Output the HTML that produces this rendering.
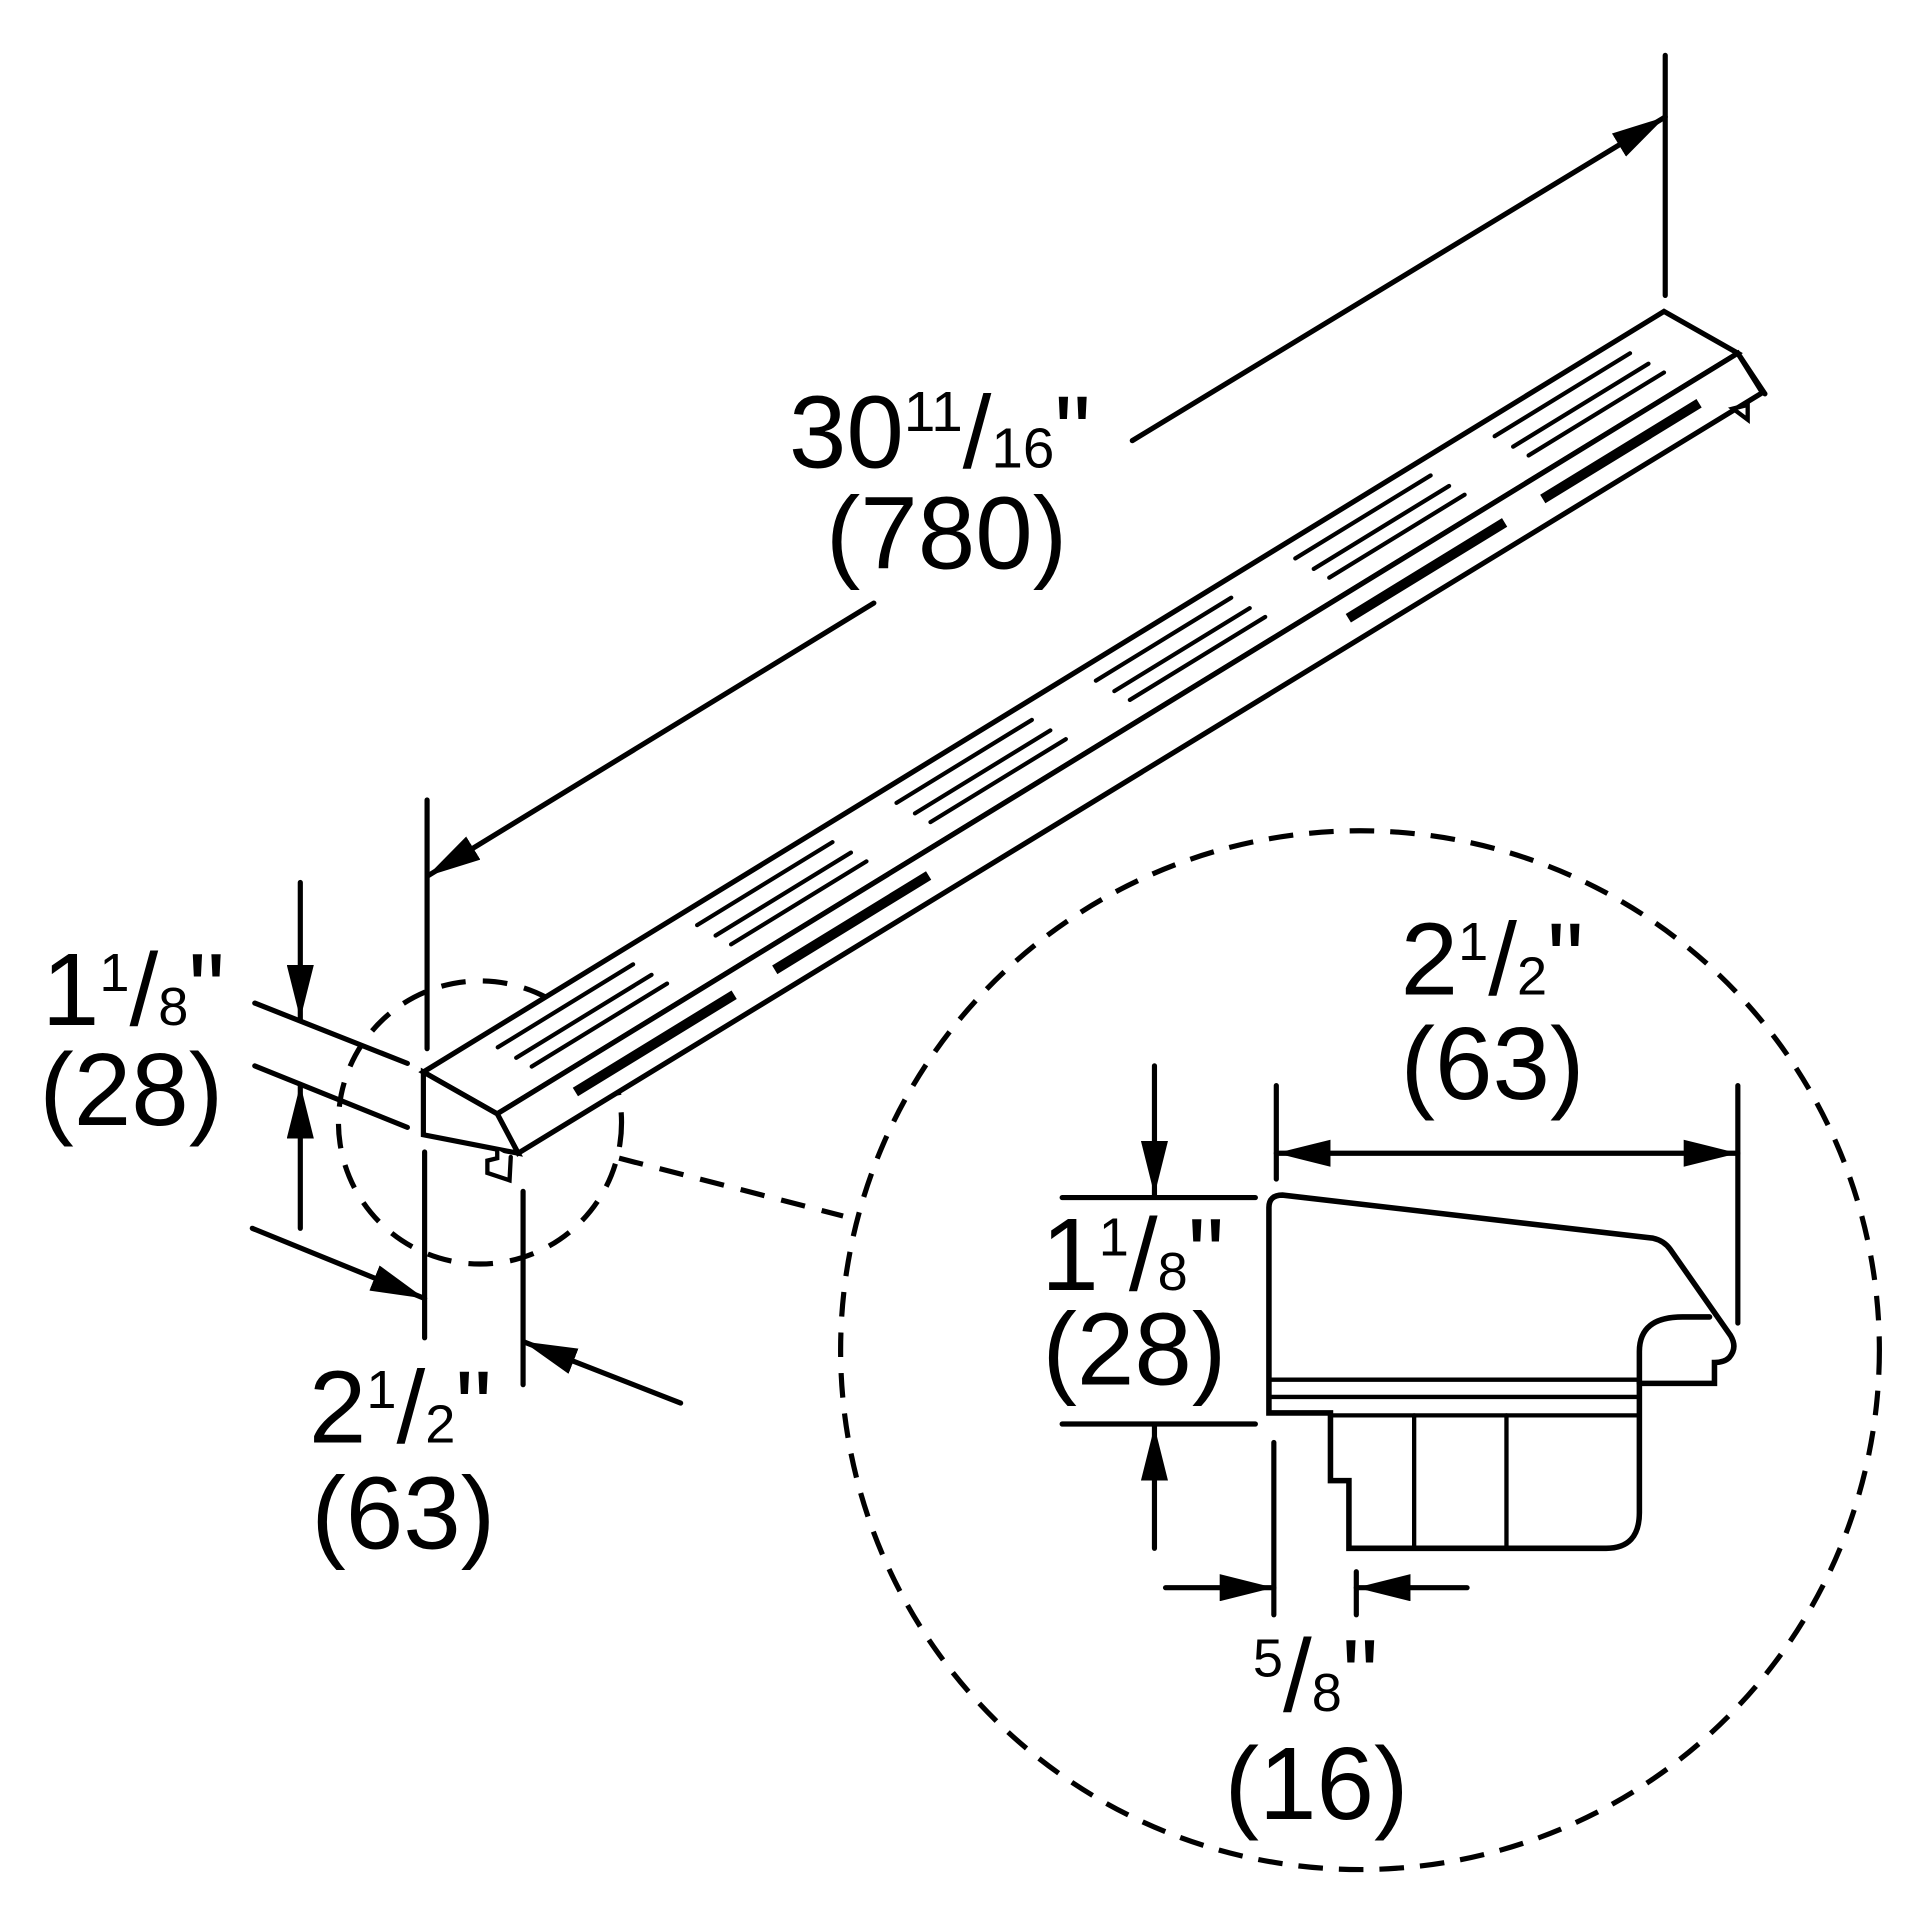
<!DOCTYPE html>
<html><head><meta charset="utf-8"><style>
html,body{margin:0;padding:0;background:#fff}
svg{display:block}
text{font-family:"Liberation Sans",Arial,sans-serif;fill:#000}
</style></head><body>
<svg width="1920" height="1920" viewBox="0 0 1560 1560" xmlns="http://www.w3.org/2000/svg">
<defs>
<marker id="a" viewBox="0 0 44 22" refX="44" refY="11" markerWidth="44" markerHeight="22" markerUnits="userSpaceOnUse" orient="auto-start-reverse">
<path d="M0,0 L44,11 L0,22 z" fill="#000"/>
</marker>
</defs>
<g stroke="#000" stroke-width="4.2" fill="none" stroke-linecap="round">
<circle cx="390" cy="912" r="115" stroke-dasharray="20 14" stroke-linecap="butt"/>
<circle cx="1105" cy="1097" r="422" stroke-dasharray="20 13" stroke-linecap="butt"/>
<line x1="503" y1="941" x2="685" y2="988" stroke-dasharray="20 14" stroke-linecap="butt"/>

<polygon points="344,871 1352,253 1412,287 404,905" fill="#fff"/>
<polygon points="404,905 1412,287 1432,319 421,937" fill="#fff"/>
<polygon points="344,871 404,905 421,937 344,922" fill="#fff"/>
<path d="M1412,287 L1434,320"/>
<path d="M404,934 L404,941 L396,943 L396,953 L414,959 L415,940" fill="#fff" stroke-width="3.5"/>
<path d="M1408,332 L1420,329 L1420,341 Z" fill="#fff" stroke-width="3.5"/>

<g transform="matrix(1,-0.613,60,34,344,871)">
<path vector-effect="non-scaling-stroke" stroke-width="4.2" d="
M46,0.24 L156,0.24 M46,0.49 L156,0.49 M46,0.70 L156,0.70
M208,0.24 L318,0.24 M208,0.49 L318,0.49 M208,0.70 L318,0.70
M370,0.24 L480,0.24 M370,0.49 L480,0.49 M370,0.70 L480,0.70
M532,0.24 L642,0.24 M532,0.49 L642,0.49 M532,0.70 L642,0.70
M694,0.24 L804,0.24 M694,0.49 L804,0.49 M694,0.70 L804,0.70
M856,0.24 L966,0.24 M856,0.49 L966,0.49 M856,0.70 L966,0.70"/>
</g>
<g transform="matrix(1,-0.613,17,32,404,905)">
<path vector-effect="non-scaling-stroke" stroke-width="10" stroke-linecap="butt" d="
M55,0.5 L184,0.5 M217,0.5 L342,0.5 M683,0.5 L810,0.5 M841,0.5 L968,0.5"/>
</g>

<line x1="1353" y1="45" x2="1353" y2="240"/>
<line x1="347" y1="650" x2="347" y2="852"/>
<line x1="345" y1="936" x2="345" y2="1087"/>
<line x1="425" y1="968" x2="425" y2="1125"/>
<line x1="710" y1="490" x2="347" y2="712" marker-end="url(#a)"/>
<line x1="920" y1="358" x2="1353" y2="95" marker-end="url(#a)"/>

<line x1="207" y1="815" x2="331" y2="864"/>
<line x1="207" y1="866" x2="331" y2="916"/>
<line x1="244" y1="717" x2="244" y2="828" marker-end="url(#a)"/>
<line x1="244" y1="998" x2="244" y2="881" marker-end="url(#a)"/>
<line x1="205" y1="998" x2="345" y2="1055" marker-end="url(#a)"/>
<line x1="553" y1="1140" x2="425" y2="1090" marker-end="url(#a)"/>

<g stroke-width="4.5">
<path d="M1031,1148 L1031,981 Q1031,971 1042,971 L1343,1006 Q1352,1008 1357,1015 L1406,1085 Q1412,1095 1405,1103 Q1401,1107 1393,1107 L1393,1124 L1332,1124 L1332,1229 Q1332,1258 1305,1258 L1096,1258 L1096,1203 L1081,1203 L1081,1148 Z" fill="#fff"/>
<path d="M1332,1124 L1332,1098 Q1332,1070 1367,1070 L1389,1070"/>
</g>
<line x1="1031" y1="1121" x2="1332" y2="1121" stroke-width="3.5"/>
<line x1="1031" y1="1135" x2="1332" y2="1135" stroke-width="3.5"/>
<line x1="1081" y1="1150" x2="1332" y2="1150" stroke-width="3.5"/>
<line x1="1149" y1="1150" x2="1149" y2="1258" stroke-width="3.5"/>
<line x1="1224" y1="1150" x2="1224" y2="1258" stroke-width="3.5"/>

<line x1="1037" y1="882" x2="1037" y2="958"/>
<line x1="1412" y1="882" x2="1412" y2="1075"/>
<line x1="1037" y1="937" x2="1412" y2="937" marker-start="url(#a)" marker-end="url(#a)"/>
<line x1="863" y1="973" x2="1020" y2="973"/>
<line x1="863" y1="1157" x2="1020" y2="1157"/>
<line x1="938" y1="866" x2="938" y2="971" marker-end="url(#a)"/>
<line x1="938" y1="1258" x2="938" y2="1159" marker-end="url(#a)"/>
<line x1="1035" y1="1172" x2="1035" y2="1312"/>
<line x1="1102" y1="1277" x2="1102" y2="1312"/>
<line x1="947" y1="1290" x2="1035" y2="1290" marker-end="url(#a)"/>
<line x1="1192" y1="1290" x2="1102" y2="1290" marker-end="url(#a)"/>
</g>

<g font-size="84">
<text x="641" y="380">30<tspan font-size="46" dy="-30">11</tspan><tspan dy="30">/</tspan><tspan font-size="46">16</tspan>"</text>
<text x="671" y="462">(780)</text>
<text x="34" y="833">1<tspan font-size="44" dy="-28">1</tspan><tspan dy="28">/</tspan><tspan font-size="44">8</tspan>"</text>
<text x="32" y="914">(28)</text>
<text x="251" y="1172">2<tspan font-size="44" dy="-28">1</tspan><tspan dy="28">/</tspan><tspan font-size="44">2</tspan>"</text>
<text x="253" y="1258">(63)</text>
<text x="1138" y="808">2<tspan font-size="44" dy="-28">1</tspan><tspan dy="28">/</tspan><tspan font-size="44">2</tspan>"</text>
<text x="1138" y="893">(63)</text>
<text x="846" y="1048">1<tspan font-size="44" dy="-28">1</tspan><tspan dy="28">/</tspan><tspan font-size="44">8</tspan>"</text>
<text x="847" y="1125">(28)</text>
<text x="1018" y="1390"><tspan font-size="44" dy="-28">5</tspan><tspan dy="28">/</tspan><tspan font-size="44">8</tspan>"</text>
<text x="995" y="1478">(16)</text>
</g>
</svg>
</body></html>
